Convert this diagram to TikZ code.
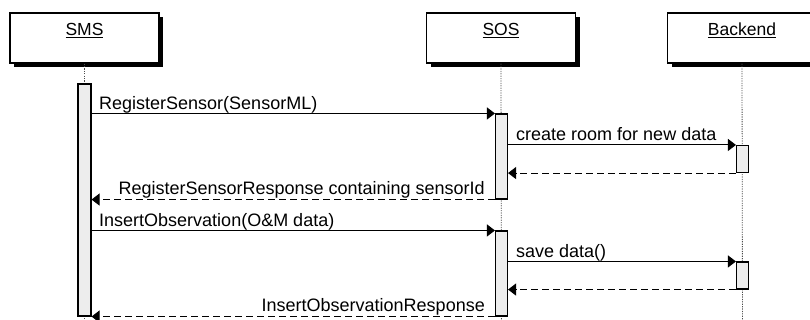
\documentclass[tikz,border=0pt]{standalone}
\usepackage{fontspec}
\setmainfont{Liberation Sans}
\usetikzlibrary{arrows.meta,shadows}
\begin{document}
\begin{tikzpicture}[x=1pt,y=-1pt, font=\fontsize{18}{21}\selectfont,
 actor/.style={draw, line width=1.3pt, fill=white, minimum width=149pt, minimum height=50pt, inner sep=0,
   drop shadow={shadow xshift=4pt, shadow yshift=-4pt, fill=black, opacity=1}},
 act/.style={draw, line width=1.1pt, fill=black!7, minimum width=12pt, inner sep=0},
 life/.style={draw=black!70, line width=0.8pt, dash pattern=on 1.2pt off 1.2pt},
 msg/.style={line width=1pt, -{Triangle[length=8pt,width=12pt]}},
 ret/.style={msg, dash pattern=on 7pt off 4pt},
 lbl/.style={anchor=base west, inner sep=0},
 rlbl/.style={anchor=base east, inner sep=0},
 hlbl/.style={anchor=base, inner sep=0, font=\fontsize{17.5}{21}\selectfont}]
\useasboundingbox (0,0) rectangle (810,320);
% actors
\node[actor] (sms) at (84.5,38) {};
\node[actor] (sos) at (501,38) {};
\node[actor] (be) at (742,38) {};
\node[hlbl] (smsT) at (84.5,36) {\underline{SMS}};
\node[hlbl] (sosT) at (501,36) {\underline{SOS}};
\node[hlbl] (beT) at (742,36) {\underline{Backend}};
% lifelines
\coordinate (smsE) at (84.5,320);
\coordinate (sosE) at (501.5,320);
\coordinate (beE) at (742.5,320);
\draw[life] (sms.south) -- (smsE);
\draw[life] (sos.south) -- (sosE);
\draw[life] (be.south) -- (beE);
% activations
\node[act, minimum width=13pt, minimum height=232pt] (a1) at (84.5,200) {};
\node[act, minimum height=85pt] (s1) at (501.5,156.5) {};
\node[act, minimum height=85pt] (s2) at (501.5,273.5) {};
\node[act, minimum height=27pt] (b1) at (742.5,159) {};
\node[act, minimum height=27pt] (b2) at (742.5,275.5) {};
% messages
\draw[msg] (a1.east |- s1.north) -- (s1.north west);
\node[lbl] (m1) at (99,110) {RegisterSensor(SensorML)};
\draw[msg] (s1.east |- b1.north) -- (b1.north west);
\node[lbl] (m2) at (516,140.5) {create room for new data};
\draw[ret] (b1.south west) -- (s1.east |- b1.south);
\draw[ret] (s1.south west) -- (a1.east |- s1.south);
\node[rlbl] (m3) at (485,194.5) {RegisterSensorResponse containing sensorId};
\draw[msg] (a1.east |- s2.north) -- (s2.north west);
\node[lbl] (m4) at (99,226.5) {InsertObservation(O\&M data)};
\draw[msg] (s2.east |- b2.north) -- (b2.north west);
\node[lbl] (m5) at (516,257.5) {save data()};
\draw[ret] (b2.south west) -- (s2.east |- b2.south);
\draw[ret] (s2.south west) -- (a1.east |- s2.south);
\node[rlbl] (m6) at (485,311.5) {InsertObservationResponse};
\end{tikzpicture}
\end{document}
